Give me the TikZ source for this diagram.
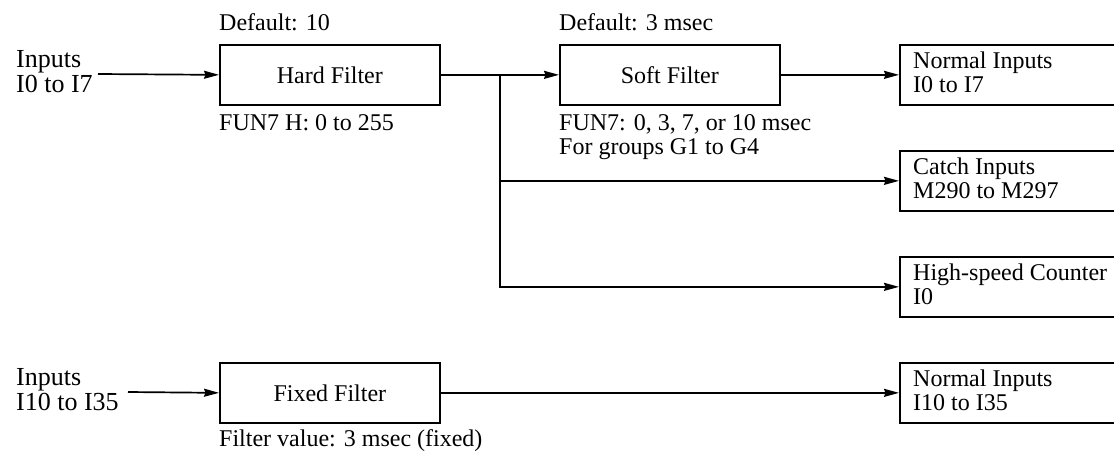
\documentclass[tikz,border=0pt]{standalone}
\usepackage{fontspec}
\setmainfont{Liberation Serif}
\usetikzlibrary{arrows.meta,calc}
\tikzset{
  box/.style={draw, line width=1.7pt, rectangle, minimum width=220pt, minimum height=60pt, inner sep=0pt, anchor=north west, font=\fontsize{24}{24}\selectfont},
  outbox/.style={draw, line width=1.7pt, rectangle, minimum width=218pt, minimum height=60pt, inner sep=0pt, anchor=north west},
  txt/.style={inner sep=0pt, anchor=base west, font=\fontsize{24}{24}\selectfont},
  lbl/.style={inner sep=0pt, anchor=base west, font=\fontsize{24}{24}\selectfont},
  inlbl/.style={inner sep=0pt, anchor=base west, font=\fontsize{26}{26}\selectfont},
  arr/.style={line width=1.7pt, -{Stealth[length=15pt,width=8pt,inset=1.5pt]}}
}
\begin{document}
\begin{tikzpicture}[x=1pt,y=-1pt]
\useasboundingbox (0,0) rectangle (1114,450);
% top row
\node[inlbl] (inA1) at (16,67) {Inputs};
\node[inlbl] (inA2) at (16,92) {I0 to I7};
\coordinate (inA) at (98,74);
\node[box] (hf) at (219,44) {Hard Filter};
\node[lbl] (hfd) at (219,30) {Default: 10};
\node[lbl] (hfu) at (219,130) {FUN7 H: 0 to 255};
\node[box] (sf) at (559,44) {Soft Filter};
\node[lbl] (sfd) at (559,30) {Default: 3 msec};
\node[lbl] (sfu1) at (559,130) {FUN7: 0, 3, 7, or 10 msec};
\node[lbl] (sfu2) at (559,154) {For groups G1 to G4};
\node[outbox] (ni) at (899,44) {};
\node[txt] (ni1) at (913,68) {Normal Inputs};
\node[txt] (ni2) at (913,92) {I0 to I7};
\node[outbox] (ci) at (899,150) {};
\node[txt] (ci1) at (913,174) {Catch Inputs};
\node[txt] (ci2) at (913,198) {M290 to M297};
\node[outbox] (hc) at (899,256) {};
\node[txt] (hc1) at (913,280) {High-speed Counter};
\node[txt] (hc2) at (913,304) {I0};
\coordinate (br) at (500,74);
\draw[arr] (inA) -- (hf.west);
\draw[arr] (hf.east) -- (sf.west);
\draw[arr] (sf.east) -- (ni.west);
\draw[arr] (br) |- (ci.west);
\draw[arr] (br) |- (hc.west);
% bottom row
\node[inlbl] (inB1) at (16,385) {Inputs};
\node[inlbl] (inB2) at (16,410) {I10 to I35};
\coordinate (inB) at (128,392);
\node[box] (ff) at (219,362) {Fixed Filter};
\node[lbl] (ffu) at (219,446) {Filter value: 3 msec (fixed)};
\node[outbox] (nb) at (899,362) {};
\node[txt] (nb1) at (913,386) {Normal Inputs};
\node[txt] (nb2) at (913,410) {I10 to I35};
\draw[arr] (inB) -- (ff.west);
\draw[arr] (ff.east) -- (nb.west);
\end{tikzpicture}
\end{document}
